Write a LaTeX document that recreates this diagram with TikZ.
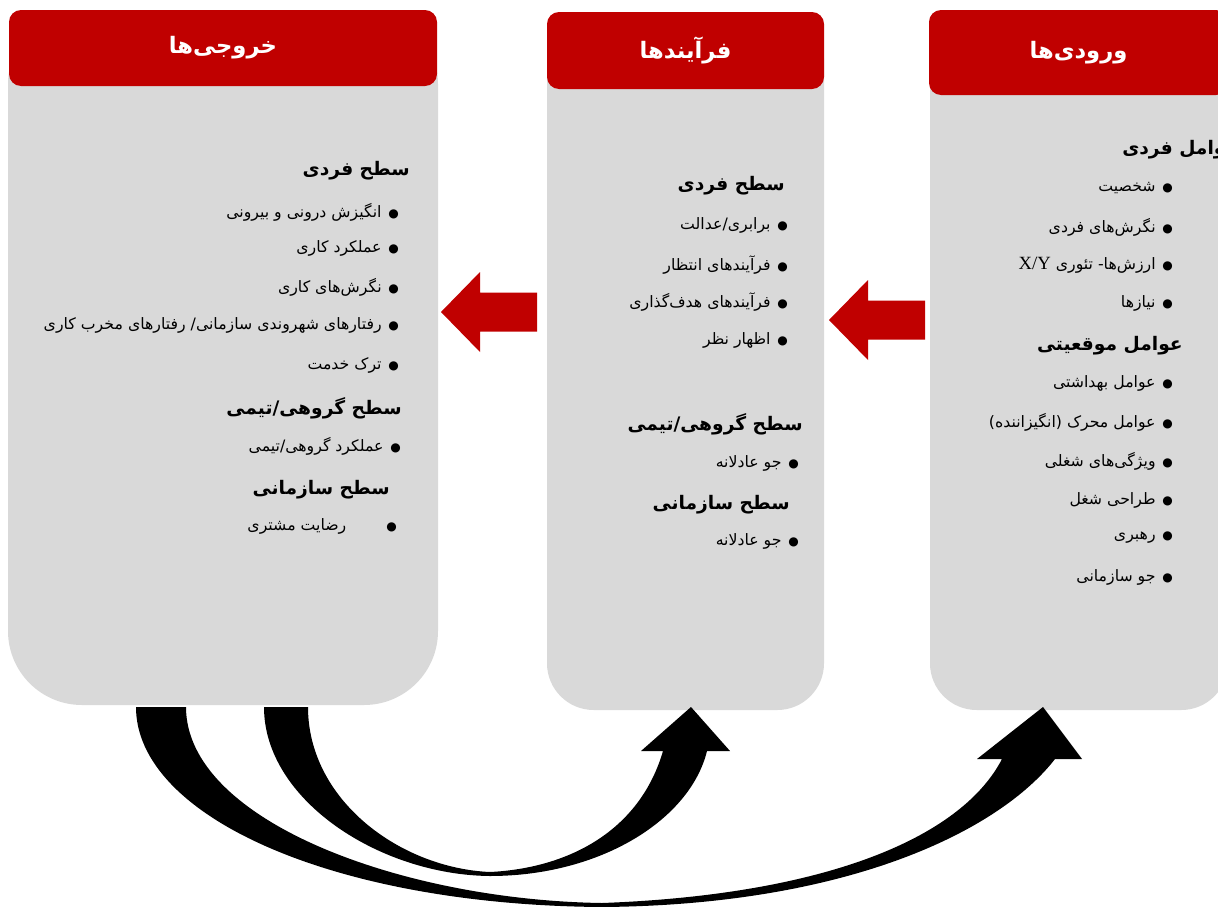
\documentclass[tikz,border=0pt]{standalone}
\usepackage{fontspec}
\setmainfont{DejaVu Sans}
\newfontfamily\fa[Script=Arabic]{DejaVu Sans}
\newfontfamily\lat{Liberation Serif}
\TeXXeTstate=1
\definecolor{hdred}{RGB}{192,0,0}
\definecolor{pgrey}{RGB}{217,217,217}
\newcommand{\rl}[1]{\beginR#1\endR}
\newcommand{\bl}[2][5pt]{\beginR{\fontsize{9}{9}\selectfont ●}\hspace{#1}#2\endR}
\tikzset{
  panel/.style={fill=pgrey},
  header/.style={fill=hdred, rounded corners=9pt, text=white, inner sep=0pt,
    font=\fa\bfseries\fontsize{17}{20}\selectfont},
  lvl/.style={anchor=east, inner sep=0pt, font=\fa\bfseries\fontsize{14}{17}\selectfont},
  itm/.style={anchor=east, inner sep=0pt, font=\fa\fontsize{11.8}{14}\selectfont},
  flowarrow/.style={fill=hdred},
  loop/.style={fill=black}
}
\begin{document}
\begin{tikzpicture}[x=0.75pt,y=-0.75pt]
\useasboundingbox (0,0) rectangle (1218,907);
\clip (0,0) rectangle (1218,907);
% grey panels
\fill[panel, rounded corners=55.5pt] (8,10) rectangle (438,705);
\fill[panel, rounded corners=35pt] (547,12) rectangle (824,710);
\fill[panel, rounded corners=35pt] (930,10) rectangle (1228,710);
% headers
\node[header, minimum width=321pt, minimum height=57pt] (outH) at (223,48) {\rl{خروجی‌ها}};
\node[header, minimum width=207.75pt, minimum height=57.75pt] (procH) at (685.5,50.5) {\rl{فرآیندها}};
\node[header, minimum width=224.25pt, minimum height=63.75pt] (inH) at (1078.5,52.5) {\rl{ورودی‌ها}};
% red arrows between panels
\foreach \tx/\ty in {441/312, 829/320}
  \fill[flowarrow, shift={(\tx,\ty)}] (0,0) -- (39,-40) -- (39,-19.5) -- (96,-19.5) -- (96,19.5) -- (39,19.5) -- (39,40) -- cycle;

% outputs
\node[lvl] (outInd) at (410,171) {\rl{سطح فردی}};
\foreach \y/\t [count=\i] in {212/{انگیزش درونی و بیرونی}, 248/{عملکرد کاری}, 287/{نگرش‌های کاری},
    325/{رفتارهای شهروندی سازمانی/ رفتارهای مخرب کاری}, 365/{ترک خدمت}}
  \node[itm] (outI\i) at (399,\y) {\bl{\t}};
\node[lvl] (outGrp) at (402,408) {\rl{سطح گروهی/تیمی}};
\node[itm] (outG1) at (401,446) {\bl{عملکرد گروهی/تیمی}};
\node[lvl] (outOrg) at (390,490) {\rl{سطح سازمانی}};
\node[itm] (outO1) at (397,526) {\bl[30pt]{رضایت مشتری}};

% processes
\node[lvl] (procInd) at (785,186) {\rl{سطح فردی}};
\foreach \y/\t [count=\i] in {225/{برابری/عدالت}, 265/{فرآیندهای انتظار}, 302/{فرآیندهای هدف‌گذاری}, 340/{اظهار نظر}}
  \node[itm] (procI\i) at (788,\y) {\bl{\t}};
\node[lvl] (procGrp) at (803,424) {\rl{سطح گروهی/تیمی}};
\node[itm] (procG1) at (799,463) {\bl{جو عادلانه}};
\node[lvl] (procOrg) at (790,505) {\rl{سطح سازمانی}};
\node[itm] (procO1) at (799,541) {\bl{جو عادلانه}};

% inputs
\node[lvl, anchor=west] (inInd) at (1122,150) {\rl{عوامل فردی}};
\node[itm] (inI1) at (1173,188) {\bl{شخصیت}};
\node[itm] (inI2) at (1173,227) {\bl{نگرش‌های فردی}};
\node[itm] (inI3) at (1173,265) {\beginR{\fontsize{9}{9}\selectfont ●}\hspace{5pt}ارزش‌ها- تئوری \beginL{\lat\fontsize{14}{14}\selectfont X/Y}\endL\endR};
\node[itm] (inI4) at (1173,303) {\bl{نیازها}};
\node[lvl] (inSit) at (1183,346) {\rl{عوامل موقعیتی}};
\foreach \y/\t [count=\i] in {383/{عوامل بهداشتی}, 422/{عوامل محرک (انگیزاننده)}, 461/{ویژگی‌های شغلی},
    500/{طراحی شغل}, 538/{رهبری}, 577/{جو سازمانی}}
  \node[itm] (inS\i) at (1173,\y) {\bl{\t}};

% feedback loops: outputs -> inputs
\fill[loop] (136,707) .. controls (136,815) and (330,905) .. (602,907)
  .. controls (850,905) and (1000,830) .. (1055,759)
  -- (1082,759) -- (1043,707) -- (977,759) -- (1002,759)
  .. controls (960,840) and (820,895) .. (602,903)
  .. controls (400,900) and (186,820) .. (186,707) -- cycle;
% outputs -> processes
\fill[loop] (264,707) .. controls (264,800) and (380,875) .. (490,876)
  .. controls (600,876) and (690,820) .. (707,751)
  -- (730,751) -- (691,707) -- (641,751) -- (663,751)
  .. controls (640,830) and (570,868) .. (490,872)
  .. controls (400,868) and (308,800) .. (308,707) -- cycle;
\end{tikzpicture}
\end{document}
